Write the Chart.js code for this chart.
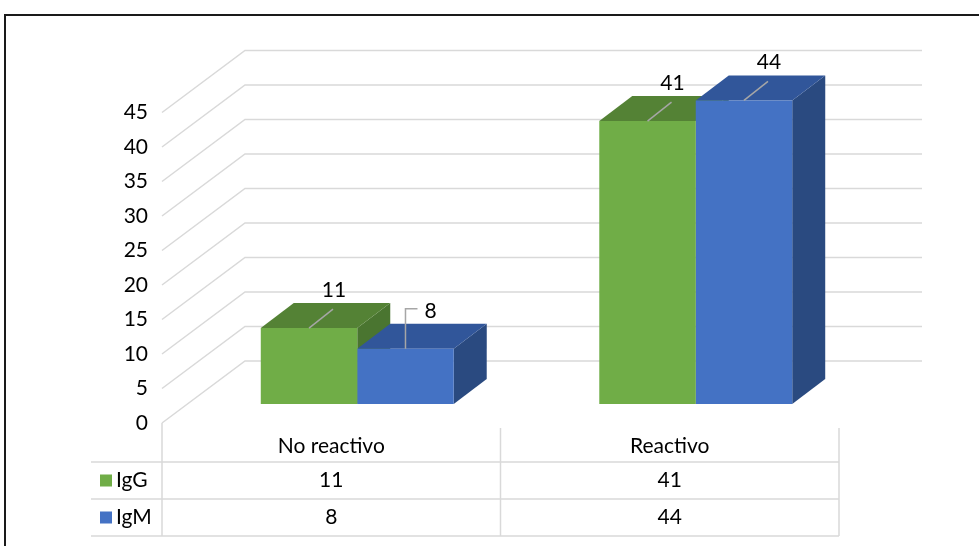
<!DOCTYPE html>
<html>
<head>
<meta charset="utf-8">
<script src="https://cdn.jsdelivr.net/npm/chart.js@4"></script>
<style>
  body { margin: 0; background: #fff; }
  #wrap { width: 979px; height: 546px; }
</style>
</head>
<body>
<div id="wrap"><canvas id="serologyChart" width="979" height="546"></canvas></div>
<script>
// chart values
const categories = ['No reactivo', 'Reactivo'];
const seriesNames = ['IgG', 'IgM'];
const igG = [11, 41];
const igM = [8, 44];
const yMax = 45;
const yStep = 5;

// look of the fake 3d
const frontColors = ['#70AD47', '#4472C4'];
const topColors = ['#548235', '#31569A'];
const sideColors = ['#4A7530', '#2A4A80'];
const wall = { dx: 83, dy: -62 };   // back wall offset
const barShift = { dx: 26, dy: -19 }; // bar front face offset
const barDepth = { dx: 33, dy: -25 };
const elbowLabels = ['1-0']; // label moved aside, leader goes up then right
const gridColor = '#d9d9d9';

Chart.defaults.font.family = 'Lato, "Open Sans", sans-serif';
Chart.defaults.font.size = 21;
Chart.defaults.color = '#000';

const threeD = {
    id: 'threeD',
    beforeDraw(chart) {
        const ctx = chart.ctx;
        ctx.save();
        ctx.fillStyle = '#fff';
        ctx.fillRect(0, 0, chart.width, chart.height);
        ctx.strokeStyle = '#1a1a1a';
        ctx.lineWidth = 2;
        ctx.strokeRect(5, 15, chart.width + 20, chart.height + 20);
        ctx.restore();
    },
    beforeDatasetsDraw(chart) {
        const {ctx, chartArea: a, scales: {y}} = chart;
        ctx.save();
        // floor diagonals + back wall gridlines
        ctx.strokeStyle = gridColor;
        ctx.lineWidth = 1.5;
        y.ticks.forEach(t => {
            const py = y.getPixelForValue(t.value);
            ctx.beginPath();
            ctx.moveTo(a.left, py);
            ctx.lineTo(a.left + wall.dx, py + wall.dy);
            ctx.lineTo(a.right + wall.dx, py + wall.dy);
            ctx.stroke();
        });
        // side and top faces, first series first so the next one hides it
        ctx.translate(barShift.dx, barShift.dy);
        chart.data.datasets.forEach((ds, i) => {
            chart.getDatasetMeta(i).data.forEach(bar => {
                const l = bar.x - bar.width / 2, r = bar.x + bar.width / 2;
                const t = bar.y, b = bar.base;
                ctx.fillStyle = sideColors[i];
                ctx.beginPath();
                ctx.moveTo(r, b); ctx.lineTo(r, t);
                ctx.lineTo(r + barDepth.dx, t + barDepth.dy);
                ctx.lineTo(r + barDepth.dx, b + barDepth.dy);
                ctx.closePath(); ctx.fill();
                ctx.fillStyle = topColors[i];
                ctx.beginPath();
                ctx.moveTo(l, t); ctx.lineTo(r, t);
                ctx.lineTo(r + barDepth.dx, t + barDepth.dy);
                ctx.lineTo(l + barDepth.dx, t + barDepth.dy);
                ctx.closePath(); ctx.fill();
            });
        });
        ctx.restore();
    },
    beforeDatasetDraw(chart) {
        // the library draws the front face, moved into the bar's depth
        chart.ctx.save();
        chart.ctx.translate(barShift.dx, barShift.dy);
    },
    afterDatasetDraw(chart) {
        chart.ctx.restore();
    },
    afterDraw(chart) {
        const {ctx, chartArea: a, scales: {x}} = chart;
        ctx.save();
        // data labels with leader lines
        ctx.font = '21px Lato';
        ctx.textAlign = 'center';
        ctx.textBaseline = 'middle';
        chart.data.datasets.forEach((ds, di) => {
            chart.getDatasetMeta(di).data.forEach((bar, j) => {
                const fx = bar.x + barShift.dx, ty = bar.y + barShift.dy;
                ctx.strokeStyle = '#a6a6a6';
                ctx.lineWidth = 1.5;
                ctx.beginPath();
                if (elbowLabels.includes(di + '-' + j)) {
                    ctx.moveTo(fx, ty);
                    ctx.lineTo(fx, ty - 40);
                    ctx.lineTo(fx + 12, ty - 40);
                } else {
                    ctx.moveTo(fx, ty);
                    ctx.lineTo(fx + 24, ty - 19);
                }
                ctx.stroke();
                ctx.fillStyle = '#000';
                ctx.fillText(String(ds.data[j]), fx + 25, ty - 38);
            });
        });

        // data table
        const rowH = 37;
        const top = a.bottom + 39;
        const tableLeft = 91;
        const half = (x.getPixelForValue(1) - x.getPixelForValue(0)) / 2;
        ctx.strokeStyle = gridColor;
        ctx.lineWidth = 1.5;
        ctx.beginPath();
        ctx.moveTo(a.left, a.bottom); ctx.lineTo(a.left, top + rowH * 2);
        categories.forEach((c, j) => {
            const xr = x.getPixelForValue(j) + half;
            ctx.moveTo(xr, a.bottom + 5); ctx.lineTo(xr, top + rowH * 2);
        });
        for (let r = 0; r <= 2; r++) {
            ctx.moveTo(tableLeft, top + rowH * r);
            ctx.lineTo(a.right, top + rowH * r);
        }
        ctx.stroke();

        chart.data.datasets.forEach((ds, di) => {
            const cy = top + rowH * di + rowH / 2;
            ctx.fillStyle = frontColors[di];
            ctx.fillRect(100, cy - 6, 12, 12);
            ctx.fillStyle = '#000';
            ctx.textAlign = 'left';
            ctx.fillText(ds.label, 116, cy);
            ctx.textAlign = 'center';
            ds.data.forEach((v, j) => {
                ctx.fillText(String(v), x.getPixelForValue(j), cy);
            });
        });
        ctx.restore();
    }
};

const ctx = document.getElementById('serologyChart').getContext('2d');
const myChart = new Chart(ctx, {
    type: 'bar',
    data: {
        labels: categories,
        datasets: [
            {label: seriesNames[0], data: igG, backgroundColor: frontColors[0], borderWidth: 0},
            {label: seriesNames[1], data: igM, backgroundColor: frontColors[1], borderWidth: 0}
        ]
    },
    options: {
        responsive: false,
        animation: false,
        events: [],
        categoryPercentage: 0.57,
        barPercentage: 1,
        layout: {padding: {left: 0, right: 140, top: 112.5, bottom: 0}},
        plugins: {legend: {display: false}, tooltip: {enabled: false}},
        scales: {
            x: {
                grid: {display: false, drawTicks: false},
                border: {display: false},
                ticks: {padding: 11, color: '#000'},
                afterFit(scale) { scale.height = 123; }
            },
            y: {
                min: 0,
                max: yMax,
                grid: {display: false, drawTicks: false},
                border: {display: false},
                ticks: {stepSize: yStep, padding: 14, color: '#000'},
                afterFit(scale) { scale.width = 162; }
            }
        }
    },
    plugins: [threeD]
});
</script>
</body>
</html>
